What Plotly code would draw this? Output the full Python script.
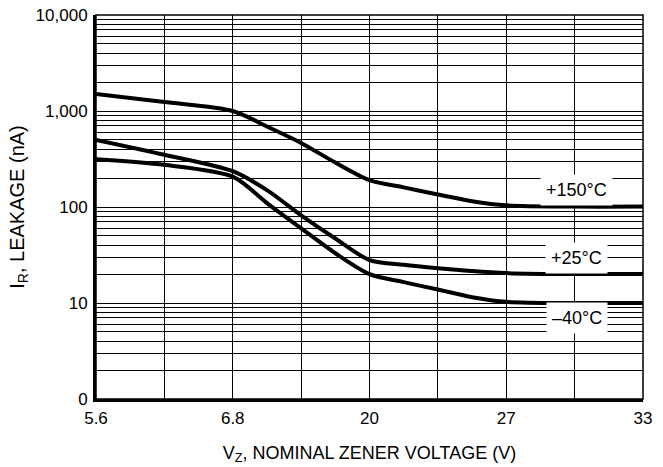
import plotly.graph_objects as go
import math

# x positions are evenly spaced grid divisions; labels on every other division
x_div = [0, 1, 2, 2.5, 3, 3.5, 4, 4.5, 5, 5.5, 6, 7, 8]
x_tick_vals = [0, 1, 2, 3, 4, 5, 6, 7, 8]
x_tick_text = ["5.6", " ", "6.8", " ", "20", " ", "27", " ", "33"]

leak_150 = [1500, 1240, 1000, 690, 465, 290, 190, 160, 135, 115, 104, 101, 101]
leak_25 = [500, 350, 236, 150, 82, 47, 28, 25, 23, 21.5, 20.5, 20, 20]
leak_m40 = [315, 275, 207, 110, 60, 33, 20, 16.5, 13.8, 11.5, 10.3, 10, 10]

curve_labels = ["+150°C", "+25°C", "\u201340°C"]
label_vals = [150, 29.5, 7]

y_major = [1, 10, 100, 1000, 10000]
y_major_text = ["0", "10", "100", "1,000", "10,000"]

FONT = "Liberation Sans, Arial, sans-serif"

y_vals = []
y_text = []
for k in range(4):
    for m in range(1, 10):
        v = m * 10 ** k
        y_vals.append(v)
        y_text.append(y_major_text[k] if m == 1 else " ")
y_vals.append(10000)
y_text.append(y_major_text[4])

fig = go.Figure()
for ys in (leak_150, leak_25, leak_m40):
    fig.add_trace(go.Scatter(
        x=x_div, y=ys, mode="lines",
        line=dict(color="black", width=4, shape="spline", smoothing=0.8),
        showlegend=False, hoverinfo="skip"))

for txt, v in zip(curve_labels, label_vals):
    fig.add_annotation(x=7.03, y=math.log10(v), xref="x", yref="y", text=txt,
                       showarrow=False, bgcolor="white", borderpad=5,
                       font=dict(family=FONT, size=18, color="black"))

fig.add_shape(type="rect", xref="paper", yref="paper", x0=0, x1=1, y0=0, y1=1,
              line=dict(color="black", width=1.5), layer="above")

fig.update_layout(
    width=663, height=467,
    margin=dict(l=96, r=20, t=15, b=68),
    paper_bgcolor="white", plot_bgcolor="white",
    font=dict(family=FONT, size=17, color="black"),
    xaxis=dict(range=[0, 8], tickmode="array", tickvals=x_tick_vals, ticktext=x_tick_text,
               showgrid=True, gridcolor="black", gridwidth=1, zeroline=False,
               showline=True, linecolor="black", linewidth=3, automargin=False,
               ticks="outside", ticklen=2, tickcolor="rgba(0,0,0,0)",
               tickfont=dict(size=17), ticklabeloverflow="allow",
               title=dict(text="V<sub>Z</sub>, NOMINAL ZENER VOLTAGE (V)", standoff=19,
                          font=dict(size=18))),
    yaxis=dict(type="log", range=[0, 4], tickmode="array", tickvals=y_vals, ticktext=y_text,
               showgrid=True, gridcolor="black", gridwidth=1, zeroline=False,
               showline=True, linecolor="black", linewidth=3, automargin=False,
               ticks="outside", ticklen=2, tickcolor="rgba(0,0,0,0)",
               tickfont=dict(size=17), ticklabeloverflow="allow",
               title=dict(text="I<sub>R</sub>, LEAKAGE (nA)", standoff=6,
                          font=dict(size=20))),
)

# remove the default page margin so the 663x467 figure fills the window exactly
fig.write_html("out.html", config={"displayModeBar": False},
               post_script="document.body.style.margin='0px';")
